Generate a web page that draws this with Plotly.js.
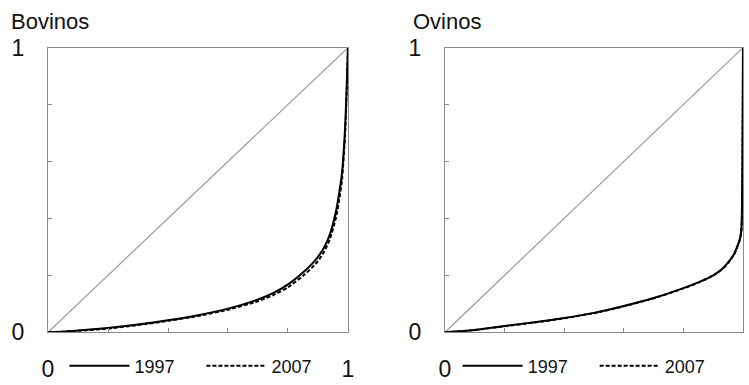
<!DOCTYPE html>
<html>
<head>
<meta charset="utf-8">
<script src="https://cdn.plot.ly/plotly-3.0.1.min.js"></script>
<style>html,body{margin:0;padding:0;background:#fff;}#chart{width:749px;height:385px;}</style>
</head>
<body>
<div id="chart"></div>
<script>
// ---- Data ----
var panelTitles = ["Bovinos", "Ovinos"];
var seriesNames = ["1997", "2007"];
var tickVals = [0, 0.2, 0.4, 0.6, 0.8, 1];
var tickText = ["0", "", "", "", "", "1"];
var equality = [0, 1];

// Bovinos (cattle) Lorenz curves
var bovX = [0, 0.05, 0.1, 0.2, 0.3, 0.4, 0.5, 0.6, 0.7, 0.75, 0.8, 0.85, 0.88, 0.9, 0.92, 0.94, 0.96, 0.97, 0.98, 0.99, 0.995, 1];
var bov1997 = [0, 0.002, 0.006, 0.015, 0.027, 0.042, 0.06, 0.083, 0.115, 0.137, 0.168, 0.21, 0.24, 0.265, 0.297, 0.345, 0.425, 0.485, 0.56, 0.71, 0.84, 1];
var bov2007 = [0, 0.002, 0.005, 0.013, 0.025, 0.04, 0.057, 0.079, 0.109, 0.13, 0.158, 0.198, 0.227, 0.25, 0.282, 0.328, 0.403, 0.46, 0.535, 0.685, 0.82, 1];

// Ovinos (sheep) Lorenz curves
var ovX = [0, 0.05, 0.1, 0.2, 0.3, 0.4, 0.5, 0.6, 0.7, 0.8, 0.85, 0.9, 0.93, 0.95, 0.97, 0.98, 0.99, 0.995, 0.998, 1];
var ov1997 = [0, 0.003, 0.008, 0.022, 0.035, 0.05, 0.068, 0.092, 0.12, 0.155, 0.175, 0.2, 0.222, 0.245, 0.275, 0.3, 0.33, 0.37, 0.6, 1];
var ov2007 = [0, 0.003, 0.008, 0.021, 0.034, 0.049, 0.067, 0.091, 0.119, 0.154, 0.174, 0.199, 0.221, 0.243, 0.273, 0.297, 0.325, 0.36, 0.55, 1];

// ---- Styling ----
var FONT = "Liberation Sans, Arial, sans-serif";
var frameColor = "#8a8a8a";
var diagColor = "#9a9a9a";
var DASH = "4px,2px";

function curve(x, y, name, dash, xa, ya, leg) {
  return {x: x, y: y, name: name, type: "scatter", mode: "lines",
    line: {color: "#000", width: 2, dash: dash, shape: "spline", smoothing: 0.5}, xaxis: xa, yaxis: ya,
    legend: leg, hoverinfo: "skip"};
}
function diag(xa, ya) {
  return {x: equality, y: equality, type: "scatter", mode: "lines",
    line: {color: diagColor, width: 1.2}, xaxis: xa, yaxis: ya, showlegend: false, hoverinfo: "skip"};
}

var data = [
  diag("x", "y"),
  curve(bovX, bov1997, seriesNames[0], "solid", "x", "y", "legend"),
  curve(bovX, bov2007, seriesNames[1], DASH, "x", "y", "legend"),
  diag("x2", "y2"),
  curve(ovX, ov1997, seriesNames[0], "solid", "x2", "y2", "legend2"),
  curve(ovX, ov2007, seriesNames[1], DASH, "x2", "y2", "legend2")
];

function xaxis(domain, anchor) {
  return {domain: domain, anchor: anchor, range: [0, 1], tickvals: tickVals, ticktext: tickText,
    ticks: "inside", ticklen: 4, tickcolor: frameColor, showgrid: false, zeroline: false,
    showline: true, linecolor: frameColor, linewidth: 1, mirror: true,
    ticklabelstandoff: 16, tickfont: {family: FONT, size: 23, color: "#111"}, fixedrange: true};
}
function yaxis(domain, anchor) {
  return {domain: domain, anchor: anchor, range: [0, 1], tickvals: tickVals, ticktext: tickText,
    ticks: "inside", ticklen: 4, tickcolor: frameColor, showgrid: false, zeroline: false,
    showline: true, linecolor: frameColor, linewidth: 1, mirror: true,
    ticklabelstandoff: 18, tickfont: {family: FONT, size: 23, color: "#111"}, fixedrange: true};
}

var yDom = [0.1117, 0.8727];
var legendBase = {orientation: "h", xanchor: "left", y: 0.021, yanchor: "middle",
  font: {family: FONT, size: 18, color: "#111"}, bgcolor: "rgba(0,0,0,0)",
  entrywidth: 62, itemwidth: 60};
var layout = {
  width: 749, height: 385,
  margin: {l: 0, r: 0, t: 0, b: 0},
  paper_bgcolor: "#fff", plot_bgcolor: "#fff",
  font: {family: FONT, color: "#111"},
  xaxis: xaxis([0.0641, 0.4646], "y"),
  yaxis: yaxis(yDom, "x"),
  xaxis2: xaxis([0.5941, 0.992], "y2"),
  yaxis2: yaxis(yDom, "x2"),
  legend: Object.assign({x: 0.086}, legendBase),
  legend2: Object.assign({x: 0.611}, legendBase),
  annotations: [
    {text: panelTitles[0], xref: "paper", yref: "paper", x: 9 / 749, y: (385 - 22) / 385,
      xanchor: "left", yanchor: "middle", showarrow: false, font: {family: FONT, size: 22, color: "#111"}},
    {text: panelTitles[1], xref: "paper", yref: "paper", x: 411 / 749, y: (385 - 22) / 385,
      xanchor: "left", yanchor: "middle", showarrow: false, font: {family: FONT, size: 22, color: "#111"}}
  ],
  showlegend: true
};

Plotly.newPlot("chart", data, layout, {displayModeBar: false, staticPlot: true});
</script>
</body>
</html>
